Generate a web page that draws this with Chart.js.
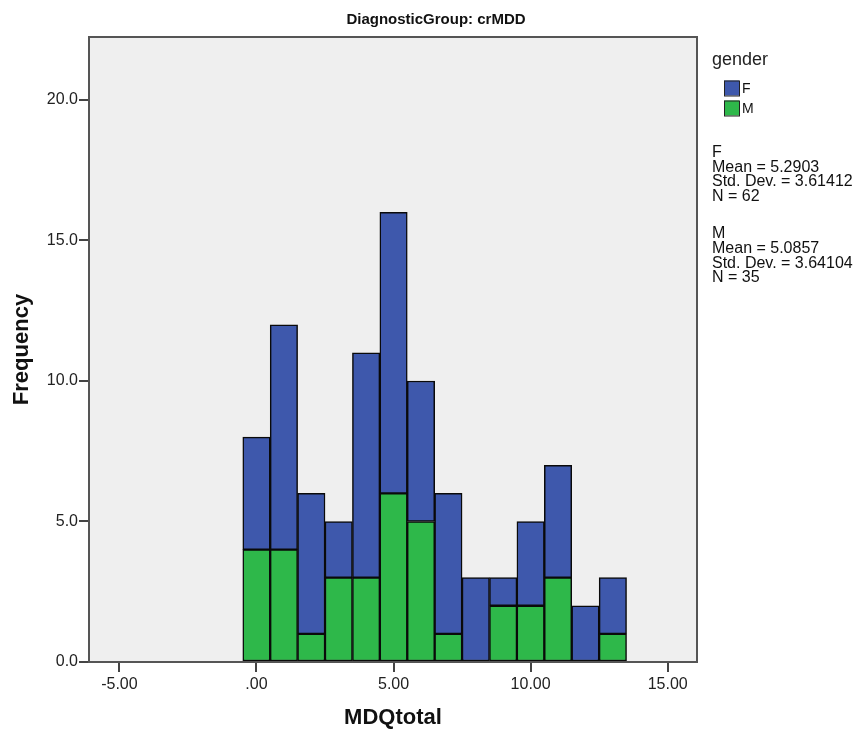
<!DOCTYPE html>
<html>
<head>
<meta charset="utf-8">
<script src="https://cdn.jsdelivr.net/npm/chart.js@4/dist/chart.umd.min.js"></script>
<style>
  html, body { margin: 0; padding: 0; background: #fff; }
  #wrap { width: 862px; height: 734px; }
</style>
</head>
<body>
<div id="wrap"><canvas id="hist" width="862" height="734"></canvas></div>
<script>
// histogram bins (MDQtotal) and counts per gender
const bins = [0, 1, 2, 3, 4, 5, 6, 7, 8, 9, 10, 11, 12, 13];
const countsM = [4, 4, 1, 3, 3, 6, 5, 1, 0, 2, 2, 3, 0, 1];
const countsF = [4, 8, 5, 2, 8, 10, 5, 5, 3, 1, 3, 4, 2, 2];
const xTicks = [-5, 0, 5, 10, 15];
const yTicks = [0, 5, 10, 15, 20];
const statsF = ['F', 'Mean = 5.2903', 'Std. Dev. = 3.61412', 'N = 62'];
const statsM = ['M', 'Mean = 5.0857', 'Std. Dev. = 3.64104', 'N = 35'];

const FONT = "'Liberation Sans', Arial, sans-serif";
const BLUE = '#3e58ac';
const GREEN = '#2eb84a';

function fmtX(v) {
  const s = v.toFixed(2);
  return s.replace(/^0\./, '.');
}

// plot background, frame, title and the legend/statistics panel
const decor = {
  id: 'decor',
  beforeDatasetsDraw(chart) {
    const { ctx, chartArea: a } = chart;
    ctx.save();
    ctx.fillStyle = '#efefef';
    ctx.fillRect(a.left, a.top, a.right - a.left, a.bottom - a.top);
    ctx.restore();
  },
  afterDraw(chart) {
    const { ctx, chartArea: a } = chart;
    ctx.save();
    ctx.strokeStyle = '#555';
    ctx.lineWidth = 2;
    ctx.strokeRect(a.left, a.top, a.right - a.left, a.bottom - a.top);

    ctx.fillStyle = '#111';
    ctx.font = 'bold 15px ' + FONT;
    ctx.textAlign = 'center';
    ctx.textBaseline = 'middle';
    ctx.fillText('DiagnosticGroup: crMDD', 436, 20);

    ctx.textAlign = 'left';
    ctx.font = '18px ' + FONT;
    ctx.fillStyle = '#222';
    ctx.fillText('gender', 712, 60);

    const items = [['F', BLUE, 88], ['M', GREEN, 108]];
    ctx.font = '14px ' + FONT;
    items.forEach(([lab, col, y]) => {
      ctx.fillStyle = col;
      ctx.fillRect(724, y - 7.5, 15, 15);
      ctx.strokeStyle = '#222';
      ctx.lineWidth = 1;
      ctx.strokeRect(724.5, y - 7, 15, 15);
      ctx.fillStyle = '#111';
      ctx.fillText(lab, 742, y + 1);
    });

    ctx.font = '16px ' + FONT;
    statsF.forEach((t, i) => ctx.fillText(t, 712, 153 + i * 14.4));
    statsM.forEach((t, i) => ctx.fillText(t, 712, 234 + i * 14.6));
    ctx.restore();
  }
};

const mkData = arr => bins.map((b, i) => ({ x: b, y: arr[i] }));

new Chart(document.getElementById('hist'), {
  type: 'bar',
  data: {
    datasets: [
      { label: 'M', data: mkData(countsM), backgroundColor: GREEN },
      { label: 'F', data: mkData(countsF), backgroundColor: BLUE }
    ]
  },
  options: {
    responsive: false,
    animation: false,
    layout: { padding: { top: 37, right: 165, left: 0, bottom: 0 } },
    datasets: {
      bar: {
        barPercentage: 1,
        categoryPercentage: 1,
        borderColor: '#0a0a0a',
        borderWidth: 1.5,
        borderSkipped: false
      }
    },
    plugins: {
      legend: { display: false },
      tooltip: { enabled: false }
    },
    scales: {
      x: {
        type: 'linear',
        stacked: true,
        offset: false,
        min: -6.11,
        max: 16.07,
        afterBuildTicks: s => { s.ticks = xTicks.map(v => ({ value: v })); },
        afterFit: s => { s.height = 72; },
        border: { display: false },
        grid: { offset: false, drawOnChartArea: false, drawTicks: true, tickLength: 10, lineWidth: 2, color: '#444' },
        ticks: {
          callback: v => fmtX(v),
          color: '#222',
          padding: 3,
          maxRotation: 0,
          autoSkip: false,
          font: { family: FONT, size: 16 }
        },
        title: {
          display: true,
          text: 'MDQtotal',
          color: '#111',
          padding: { top: 0, bottom: 3 },
          font: { family: FONT, size: 22, weight: 'bold' }
        }
      },
      y: {
        stacked: true,
        min: 0,
        max: 22.24,
        afterBuildTicks: s => { s.ticks = yTicks.map(v => ({ value: v })); },
        afterFit: s => { s.width = 89; },
        border: { display: false },
        grid: { drawOnChartArea: false, drawTicks: true, tickLength: 10, lineWidth: 2, color: '#444' },
        ticks: {
          callback: v => v.toFixed(1),
          color: '#222',
          padding: 1,
          font: { family: FONT, size: 16 }
        },
        title: {
          display: true,
          text: 'Frequency',
          color: '#111',
          padding: { top: 9, bottom: 0 },
          font: { family: FONT, size: 22, weight: 'bold' }
        }
      }
    }
  },
  plugins: [decor]
});
</script>
</body>
</html>
